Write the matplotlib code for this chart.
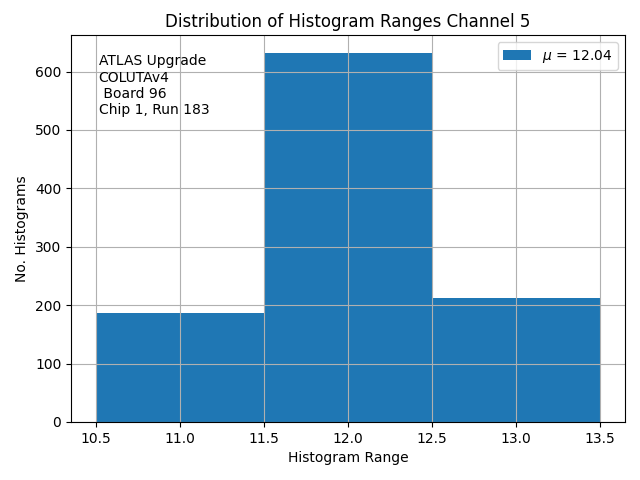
import matplotlib
matplotlib.use('Agg')
import matplotlib.pyplot as plt

# histogram range values and their counts
range_values = [11, 12, 13]
counts = [187, 631, 212]
bin_edges = [10.5, 11.5, 12.5, 13.5]
mean_label = r'$\mu$ = 12.04'

fig, ax = plt.subplots(figsize=(6.4, 4.8), dpi=100)
ax.hist(range_values, bins=bin_edges, weights=counts, color='#1f77b4', label=mean_label)
ax.grid(True)
ax.set_title('Distribution of Histogram Ranges Channel 5')
ax.set_xlabel('Histogram Range')
ax.set_ylabel('No. Histograms')
ax.text(0.05, 0.95, 'ATLAS Upgrade\nCOLUTAv4\n Board 96\nChip 1, Run 183',
        transform=ax.transAxes, va='top', ha='left')
ax.legend(loc='upper right')
fig.subplots_adjust(left=0.111, right=0.9766, top=0.927, bottom=0.121)
fig.savefig('out.png')
